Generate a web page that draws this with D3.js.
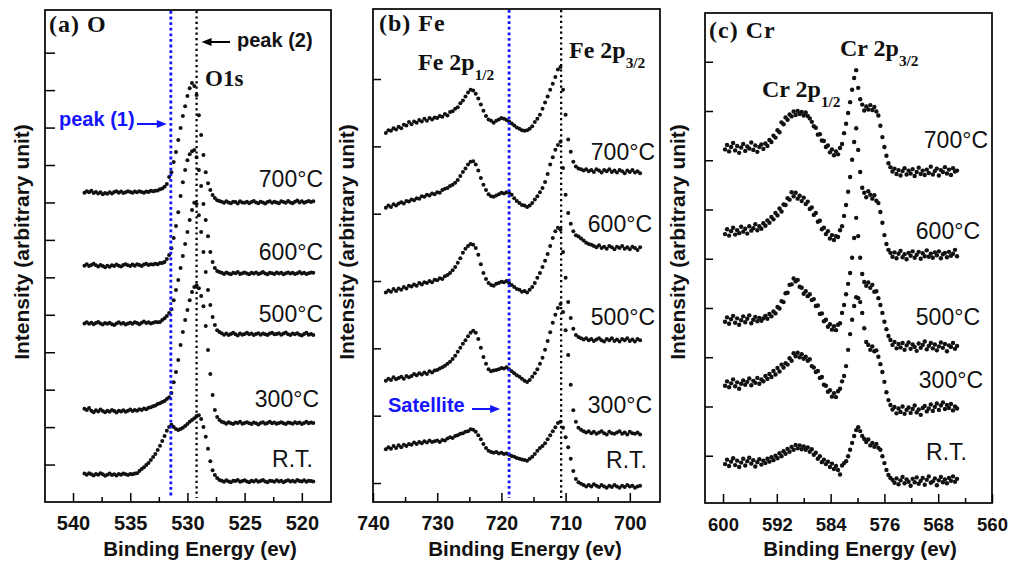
<!DOCTYPE html>
<html>
<head>
<meta charset="utf-8">
<script src="https://cdn.jsdelivr.net/npm/d3@7"></script>
<style>
  html, body { margin: 0; padding: 0; background: #fff; }
  svg { display: block; }
</style>
</head>
<body>
<svg id="chart" width="1011" height="567"></svg>
<script>
// ---------------------------------------------------------------
// XPS spectra of O 1s, Fe 2p and Cr 2p after annealing.
// Each spectrum is sampled on an evenly spaced binding-energy grid
// (start energy + step); intensities are in arbitrary units.
// ---------------------------------------------------------------

const temps = ['700°C', '600°C', '500°C', '300°C', 'R.T.'];

// ---- (a) O 1s -------------------------------------------------
const oStartEV = 539.0, oStepEV = 0.2;
const o700 = [8.26, 8.30, 8.27, 8.31, 8.25, 8.28, 8.24, 8.27, 8.22, 8.25, 8.23, 8.27, 8.24, 8.28, 8.30, 8.26, 8.29, 8.25, 8.27, 8.30, 8.28, 8.26, 8.29, 8.27, 8.30, 8.28, 8.26, 8.29, 8.28, 8.31,
  8.30, 8.31, 8.32, 8.35, 8.37, 8.42, 8.49,
  8.68, 8.81, 9.08, 9.35, 9.67, 9.99, 10.31, 10.57, 10.84, 11.05, 11.19, 11.11, 10.87, 10.33, 9.80, 9.27, 8.81, 8.51, 8.33, 8.20, 8.12, 8.06, 8.04,
  8.02, 7.99, 8.03, 8.00, 7.98, 8.02, 8.01, 7.97, 8.03, 8.00, 7.99, 8.02, 7.98, 8.01, 8.04, 8.00, 7.98, 8.02, 8.00, 7.97, 8.01, 8.03, 7.99, 8.02, 8.00, 7.98, 8.03, 8.01, 7.99, 8.04, 8.00, 7.98, 8.02, 8.05, 8.00, 8.03, 7.99, 8.02, 8.04, 8.01, 8.03];
const o600 = [6.31, 6.35, 6.30, 6.33, 6.36, 6.32, 6.29, 6.33, 6.30, 6.27, 6.31, 6.28, 6.32, 6.30, 6.34, 6.31, 6.29, 6.33, 6.35, 6.32, 6.30, 6.34, 6.31, 6.35, 6.33, 6.30, 6.34, 6.36, 6.33, 6.35, 6.34, 6.36,
  6.35, 6.38, 6.38, 6.41, 6.49, 6.60, 6.78, 7.05, 7.37, 7.74, 8.17, 8.54, 8.87, 9.13, 9.29, 9.37, 9.40, 9.21, 8.87, 8.44, 7.96, 7.53, 7.10, 6.68, 6.41, 6.25, 6.17, 6.14,
  6.12, 6.09, 6.13, 6.10, 6.08, 6.12, 6.11, 6.14, 6.09, 6.11, 6.13, 6.10, 6.08, 6.12, 6.10, 6.13, 6.09, 6.11, 6.14, 6.10, 6.08, 6.12, 6.11, 6.09, 6.13, 6.10, 6.12, 6.08, 6.11, 6.13, 6.10, 6.12, 6.09, 6.11, 6.14, 6.10, 6.12, 6.09, 6.11, 6.13, 6.12];
const o500 = [4.77, 4.80, 4.76, 4.79, 4.75, 4.78, 4.81, 4.77, 4.74, 4.78, 4.76, 4.79, 4.75, 4.73, 4.77, 4.80, 4.76, 4.78, 4.74, 4.77, 4.79, 4.76, 4.80, 4.78, 4.75, 4.79, 4.82, 4.78, 4.80, 4.77, 4.79, 4.81, 4.80,
  4.81, 4.86, 4.91, 4.97, 5.05, 5.15, 5.39, 5.66, 5.93, 6.25, 6.57, 6.89, 7.21, 7.53, 7.80, 7.99, 7.96, 7.66, 7.21, 6.68, 6.14, 5.66, 5.26, 4.94, 4.73, 4.59, 4.54,
  4.51, 4.47, 4.50, 4.46, 4.49, 4.52, 4.48, 4.45, 4.50, 4.47, 4.49, 4.52, 4.48, 4.50, 4.46, 4.49, 4.51, 4.47, 4.50, 4.48, 4.46, 4.50, 4.52, 4.48, 4.49, 4.51, 4.47, 4.50, 4.53, 4.48, 4.46, 4.50, 4.48, 4.51, 4.47, 4.45, 4.49, 4.52, 4.47, 4.49, 4.46];
const o300 = [2.49, 2.46, 2.51, 2.44, 2.40, 2.45, 2.42, 2.47, 2.43, 2.40, 2.44, 2.41, 2.46, 2.43, 2.39, 2.44, 2.42, 2.45, 2.41, 2.44, 2.47, 2.43, 2.46, 2.44, 2.48, 2.46, 2.50, 2.48, 2.52, 2.53,
  2.56, 2.58, 2.62, 2.64, 2.67, 2.70, 2.75, 2.80, 2.91, 3.20, 3.47, 3.79, 4.19, 4.54, 4.86, 5.13, 5.39, 5.61, 5.74, 5.79, 5.71, 5.50, 5.23, 4.70, 4.06, 3.42, 2.86, 2.46, 2.27, 2.19, 2.14,
  2.12, 2.09, 2.13, 2.10, 2.08, 2.12, 2.11, 2.14, 2.09, 2.11, 2.13, 2.10, 2.08, 2.12, 2.10, 2.07, 2.11, 2.13, 2.09, 2.11, 2.14, 2.10, 2.12, 2.09, 2.11, 2.13, 2.10, 2.08, 2.12, 2.11, 2.09, 2.13, 2.10, 2.12, 2.08, 2.11, 2.14, 2.10, 2.12, 2.11];
const oRT = [0.76, 0.73, 0.77, 0.74, 0.71, 0.75, 0.73, 0.77, 0.74, 0.70, 0.73, 0.76, 0.72, 0.74, 0.71, 0.75, 0.73, 0.76, 0.74, 0.72, 0.75, 0.74, 0.76,
  0.77, 0.83, 0.88, 0.93, 0.99, 1.04, 1.12, 1.20, 1.28, 1.39, 1.50, 1.63, 1.76, 1.90, 2.00, 2.06, 2.00, 1.95, 1.92, 1.95, 1.98, 2.03, 2.08, 2.14, 2.19, 2.24, 2.30, 2.32, 2.22, 2.00, 1.74, 1.42, 1.09, 0.85, 0.72, 0.64, 0.59,
  0.57, 0.54, 0.58, 0.55, 0.53, 0.57, 0.56, 0.59, 0.54, 0.56, 0.58, 0.55, 0.53, 0.57, 0.55, 0.58, 0.54, 0.56, 0.59, 0.55, 0.53, 0.57, 0.56, 0.54, 0.58, 0.55, 0.57, 0.53, 0.56, 0.58, 0.55, 0.57, 0.54, 0.59, 0.56, 0.55, 0.58, 0.54, 0.57, 0.56, 0.55];
const oXTicks = [540, 535, 530, 525, 520];
const oXMinor = [537.5, 532.5, 527.5, 522.5];
const oYTicks = [1, 2, 3, 4, 5, 6, 7, 8, 9, 10, 11, 12];
const oPeak1EV = 531.45, oPeak2EV = 529.2;

// ---- (b) Fe 2p ------------------------------------------------
const feStartEV = 738.0, feStepEV = 0.4;
const fe700 = [5.20, 5.24, 5.23, 5.27, 5.25, 5.29, 5.27, 5.32, 5.31, 5.36,
  5.33, 5.37, 5.35, 5.39, 5.37, 5.41, 5.38, 5.42, 5.40, 5.43,
  5.42, 5.45, 5.44, 5.48, 5.46, 5.51, 5.52, 5.56, 5.58, 5.64,
  5.68, 5.74, 5.80, 5.84, 5.83, 5.78, 5.71, 5.62, 5.53, 5.45,
  5.40, 5.38, 5.35, 5.38, 5.40, 5.42, 5.41, 5.39, 5.37, 5.34,
  5.31, 5.28, 5.26, 5.24, 5.23, 5.24, 5.26, 5.30, 5.36, 5.41,
  5.47, 5.56, 5.65, 5.74, 5.84, 5.93, 6.03, 6.14, 6.18, 5.84,
  5.47, 5.10, 4.92, 4.77, 4.70, 4.67, 4.66, 4.64, 4.66, 4.63,
  4.65, 4.62, 4.66, 4.64, 4.61, 4.65, 4.63, 4.66, 4.62, 4.64,
  4.61, 4.65, 4.63, 4.60, 4.64, 4.62, 4.65, 4.61, 4.63, 4.60];
const fe600 = [4.09, 4.12, 4.10, 4.14, 4.12, 4.15, 4.17, 4.15, 4.19, 4.18,
  4.21, 4.20, 4.23, 4.22, 4.26, 4.25, 4.28, 4.27, 4.30, 4.29,
  4.32, 4.31, 4.35, 4.37, 4.38, 4.41, 4.43, 4.46, 4.50, 4.56,
  4.62, 4.67, 4.73, 4.77, 4.78, 4.73, 4.64, 4.53, 4.43, 4.35,
  4.29, 4.26, 4.25, 4.27, 4.29, 4.31, 4.30, 4.32, 4.31, 4.28,
  4.23, 4.19, 4.16, 4.13, 4.12, 4.10, 4.12, 4.16, 4.21, 4.26,
  4.32, 4.38, 4.47, 4.59, 4.73, 4.84, 4.95, 5.02, 5.07, 4.68,
  4.28, 4.01, 3.85, 3.74, 3.68, 3.66, 3.63, 3.60, 3.57, 3.55,
  3.54, 3.52, 3.50, 3.53, 3.49, 3.51, 3.48, 3.52, 3.50, 3.47,
  3.51, 3.49, 3.52, 3.48, 3.50, 3.47, 3.51, 3.49, 3.46, 3.50];
const fe500 = [2.83, 2.86, 2.84, 2.88, 2.85, 2.89, 2.87, 2.91, 2.89, 2.93,
  2.92, 2.95, 2.93, 2.97, 2.95, 2.98, 2.97, 3.00, 2.98, 3.02,
  3.01, 3.04, 3.03, 3.07, 3.09, 3.12, 3.16, 3.21, 3.27, 3.34,
  3.42, 3.48, 3.52, 3.55, 3.54, 3.49, 3.39, 3.25, 3.12, 3.03,
  2.97, 2.94, 2.93, 2.96, 2.97, 2.99, 2.98, 3.00, 2.97, 2.94,
  2.91, 2.88, 2.87, 2.84, 2.85, 2.83, 2.87, 2.91, 2.97, 3.05,
  3.12, 3.21, 3.30, 3.40, 3.52, 3.64, 3.74, 3.79, 3.76, 3.43,
  3.05, 2.69, 2.45, 2.29, 2.20, 2.17, 2.15, 2.13, 2.15, 2.12,
  2.14, 2.11, 2.13, 2.15, 2.12, 2.10, 2.14, 2.12, 2.15, 2.11,
  2.13, 2.10, 2.14, 2.12, 2.15, 2.11, 2.13, 2.10, 2.14, 2.12];
const fe300 = [1.52, 1.55, 1.53, 1.57, 1.54, 1.56, 1.58, 1.55, 1.59, 1.57,
  1.59, 1.62, 1.60, 1.63, 1.61, 1.64, 1.62, 1.66, 1.64, 1.67,
  1.68, 1.70, 1.72, 1.74, 1.77, 1.80, 1.84, 1.89, 1.95, 2.01,
  2.07, 2.12, 2.18, 2.23, 2.26, 2.23, 2.14, 2.01, 1.87, 1.77,
  1.69, 1.66, 1.67, 1.68, 1.69, 1.71, 1.70, 1.72, 1.69, 1.66,
  1.63, 1.60, 1.58, 1.55, 1.52, 1.50, 1.53, 1.58, 1.63, 1.69,
  1.77, 1.86, 1.98, 2.11, 2.24, 2.38, 2.50, 2.60, 2.66, 2.54,
  2.27, 1.90, 1.46, 1.08, 0.91, 0.82, 0.79, 0.77, 0.75, 0.77,
  0.74, 0.76, 0.73, 0.75, 0.77, 0.74, 0.72, 0.76, 0.74, 0.73,
  0.75, 0.77, 0.73, 0.75, 0.72, 0.76, 0.74, 0.73, 0.75, 0.72];
const feRT = [0.50, 0.53, 0.51, 0.55, 0.52, 0.56, 0.53, 0.57, 0.55, 0.58,
  0.57, 0.60, 0.58, 0.61, 0.59, 0.62, 0.60, 0.63, 0.61, 0.62,
  0.63, 0.61, 0.64, 0.63, 0.66, 0.68, 0.67, 0.70, 0.71, 0.73,
  0.74, 0.76, 0.77, 0.80, 0.79, 0.76, 0.71, 0.65, 0.58, 0.52,
  0.48, 0.46, 0.45, 0.46, 0.44, 0.45, 0.43, 0.44, 0.42, 0.40,
  0.39, 0.37, 0.36, 0.35, 0.34, 0.33, 0.36, 0.39, 0.43, 0.48,
  0.52, 0.55, 0.59, 0.65, 0.71, 0.77, 0.83, 0.89, 0.91, 0.82,
  0.68, 0.53, 0.36, 0.18, 0.06, 0.01, -0.01, -0.03, -0.05, -0.03,
  -0.05, -0.02, -0.04, -0.06, -0.03, -0.05, -0.07, -0.04, -0.06, -0.03,
  -0.05, -0.07, -0.04, -0.06, -0.03, -0.05, -0.04, -0.07, -0.05, -0.04];
const feXTicks = [740, 730, 720, 710, 700];
const feXMinor = [735, 725, 715, 705];
const feYTicks = [0, 1, 2, 3, 4, 5, 6];
const feSatelliteEV = 718.8, fe2p32EV = 710.7;

// ---- (c) Cr 2p ------------------------------------------------
const crStartEV = 599.7, crStepEV = 0.3;
const cr700 = [7.22, 7.31, 7.18, 7.27, 7.35, 7.20, 7.29, 7.15, 7.26, 7.33,
  7.19, 7.28, 7.24, 7.36, 7.21, 7.30, 7.17, 7.27, 7.32, 7.23,
  7.34, 7.29, 7.41, 7.37, 7.50, 7.46, 7.61, 7.57, 7.77, 7.73,
  7.87, 7.82, 7.93, 7.89, 7.99, 7.92, 8.00, 7.94, 7.98, 7.91,
  7.97, 7.90, 7.85, 7.78, 7.69, 7.66, 7.52, 7.53, 7.40, 7.39,
  7.27, 7.30, 7.16, 7.22, 7.10, 7.18, 7.12, 7.25, 7.33, 7.55,
  7.74, 7.96, 8.18, 8.43, 8.67, 8.83, 8.47, 8.24, 8.13, 8.01,
  8.09, 8.03, 8.12, 8.02, 8.08, 7.99, 7.91, 7.70, 7.47, 7.27,
  7.09, 6.94, 6.86, 6.77, 6.83, 6.72, 6.80, 6.69, 6.78, 6.84,
  6.71, 6.79, 6.73, 6.82, 6.68, 6.76, 6.85, 6.72, 6.79, 6.70,
  6.81, 6.74, 6.87, 6.71, 6.78, 6.83, 6.69, 6.80, 6.76, 6.86,
  6.73, 6.81, 6.70, 6.84, 6.77, 6.79];
const cr600 = [5.50, 5.60, 5.47, 5.56, 5.63, 5.49, 5.58, 5.52, 5.65, 5.55,
  5.61, 5.51, 5.66, 5.57, 5.62, 5.70, 5.58, 5.66, 5.61, 5.72,
  5.67, 5.78, 5.73, 5.85, 5.80, 5.93, 5.88, 6.02, 5.96, 6.10,
  6.09, 6.23, 6.20, 6.35, 6.27, 6.34, 6.22, 6.28, 6.17, 6.24,
  6.11, 6.16, 6.01, 6.04, 5.89, 5.93, 5.75, 5.77, 5.60, 5.63,
  5.50, 5.56, 5.41, 5.48, 5.38, 5.46, 5.44, 5.58, 5.66, 5.87,
  6.09, 6.36, 6.66, 7.01, 7.37, 7.65, 7.21, 6.76, 6.44, 6.34,
  6.25, 6.37, 6.30, 6.22, 6.29, 6.18, 6.13, 5.95, 5.73, 5.48,
  5.30, 5.18, 5.12, 5.04, 5.13, 5.01, 5.10, 5.16, 5.03, 5.09,
  4.99, 5.12, 5.06, 5.15, 5.02, 5.08, 5.14, 5.00, 5.11, 5.05,
  5.17, 5.04, 5.10, 5.02, 5.13, 5.07, 5.15, 5.01, 5.09, 5.12,
  5.03, 5.14, 5.06, 5.10, 5.18, 5.05];
const cr500 = [3.72, 3.81, 3.68, 3.77, 3.84, 3.70, 3.79, 3.66, 3.75, 3.83,
  3.71, 3.78, 3.85, 3.69, 3.76, 3.82, 3.73, 3.80, 3.74, 3.79,
  3.84, 3.78, 3.88, 3.83, 3.93, 3.89, 4.02, 3.99, 4.14, 4.12,
  4.30, 4.31, 4.47, 4.48, 4.60, 4.54, 4.57, 4.43, 4.41, 4.29,
  4.34, 4.24, 4.28, 4.16, 4.18, 4.04, 4.05, 3.88, 3.89, 3.73,
  3.76, 3.62, 3.67, 3.56, 3.63, 3.55, 3.66, 3.69, 3.90, 4.06,
  4.28, 4.49, 4.71, 5.02, 5.42, 5.83, 5.46, 5.02, 4.69, 4.53,
  4.45, 4.52, 4.41, 4.47, 4.33, 4.34, 4.20, 4.06, 3.90, 3.72,
  3.57, 3.43, 3.35, 3.25, 3.31, 3.18, 3.27, 3.20, 3.29, 3.15,
  3.24, 3.30, 3.17, 3.26, 3.21, 3.13, 3.28, 3.19, 3.25, 3.32,
  3.16, 3.23, 3.29, 3.18, 3.26, 3.14, 3.22, 3.30, 3.19, 3.27,
  3.12, 3.24, 3.21, 3.29, 3.17, 3.23];
const cr300 = [2.42, 2.51, 2.39, 2.47, 2.55, 2.41, 2.49, 2.36, 2.46, 2.53,
  2.44, 2.50, 2.57, 2.43, 2.52, 2.48, 2.58, 2.46, 2.55, 2.51,
  2.62, 2.56, 2.66, 2.60, 2.72, 2.65, 2.78, 2.71, 2.85, 2.79,
  2.88, 2.85, 2.98, 2.93, 3.08, 3.02, 3.09, 3.00, 3.06, 2.97,
  3.01, 2.93, 2.96, 2.82, 2.79, 2.70, 2.72, 2.58, 2.60, 2.44,
  2.42, 2.30, 2.33, 2.20, 2.27, 2.19, 2.31, 2.36, 2.51, 2.62,
  2.82, 3.15, 3.47, 3.76, 4.04, 4.22, 4.20, 4.12, 3.90, 3.59,
  3.31, 3.25, 3.15, 3.22, 3.12, 3.14, 3.01, 2.86, 2.70, 2.50,
  2.29, 2.13, 2.03, 1.94, 1.99, 1.86, 1.96, 1.89, 2.00, 1.85,
  1.93, 1.98, 1.87, 1.95, 2.02, 1.88, 1.94, 1.83, 1.97, 2.01,
  1.90, 1.96, 2.04, 1.91, 1.99, 2.06, 1.93, 2.02, 2.08, 1.95,
  2.03, 1.97, 2.05, 1.92, 2.00, 1.96];
const crRT = [0.83, 0.92, 0.79, 0.88, 0.95, 0.81, 0.90, 0.77, 0.86, 0.94,
  0.80, 0.89, 0.96, 0.84, 0.91, 0.78, 0.87, 0.93, 0.82, 0.90,
  0.85, 0.94, 0.88, 0.97, 0.91, 1.00, 0.95, 1.05, 0.99, 1.09,
  1.04, 1.14, 1.08, 1.18, 1.12, 1.22, 1.15, 1.21, 1.13, 1.19,
  1.12, 1.17, 1.08, 1.13, 1.02, 1.06, 0.94, 0.99, 0.87, 0.92,
  0.83, 0.88, 0.77, 0.84, 0.73, 0.79, 0.71, 0.62, 0.80, 0.85,
  0.89, 0.99, 1.12, 1.26, 1.40, 1.52, 1.58, 1.50, 1.40, 1.34,
  1.28, 1.33, 1.21, 1.26, 1.18, 1.24, 1.16, 1.12, 0.99, 0.85,
  0.71, 0.61, 0.55, 0.51, 0.45, 0.54, 0.42, 0.50, 0.57, 0.44,
  0.52, 0.47, 0.39, 0.53, 0.46, 0.56, 0.43, 0.49, 0.55, 0.41,
  0.51, 0.58, 0.45, 0.48, 0.54, 0.40, 0.50, 0.57, 0.46, 0.52,
  0.44, 0.55, 0.49, 0.58, 0.47, 0.53];
const crXTicks = [600, 592, 584, 576, 568, 560];
const crXMinor = [596, 588, 580, 572, 564];
const crYTicks = [1, 2, 3, 4, 5, 6, 7, 8, 9];

// ---------------------------------------------------------------
const SANS = "'Liberation Sans', Arial, Helvetica, sans-serif";
const SERIF = "'Liberation Serif', 'Times New Roman', Times, serif";
const BLUE = '#1414ff';
const INK = '#111';

const svg = d3.select('#chart');
svg.append('rect').attr('width', 1011).attr('height', 567).attr('fill', '#fff');

function drawPanel(p) {
  const x = d3.scaleLinear().domain(p.xDomain).range([p.left, p.right]);
  const y = d3.scaleLinear().domain(p.yDomain).range([p.bottom, p.top]);
  const g = svg.append('g');

  // spectra as scattered points
  p.series.forEach(vals => {
    g.append('g').selectAll('circle').data(vals).join('circle')
      .attr('cx', (v, i) => x(p.start - i * p.step))
      .attr('cy', v => y(v))
      .attr('r', p.r)
      .attr('fill', INK);
  });

  // dotted guide lines
  (p.guides || []).forEach(gd => {
    g.append('line')
      .attr('x1', x(gd.ev)).attr('x2', x(gd.ev))
      .attr('y1', p.top + 1).attr('y2', p.bottom - 4)
      .attr('stroke', gd.color).attr('stroke-width', gd.width)
      .attr('stroke-dasharray', gd.dash);
  });

  // bottom axis: major ticks with labels, pointing inward
  const major = g.append('g').attr('transform', `translate(0,${p.bottom})`)
    .call(d3.axisBottom(x).tickValues(p.xTicks).tickSizeInner(-9).tickSizeOuter(0)
      .tickPadding(p.tickPad).tickFormat(d3.format('d')));
  major.select('.domain').remove();
  major.selectAll('.tick line').attr('stroke', '#000').attr('stroke-width', 1.5);
  major.selectAll('.tick text')
    .attr('font-family', SANS).attr('font-weight', 700)
    .attr('font-size', p.tickFont).attr('fill', INK);

  const minor = g.append('g').attr('transform', `translate(0,${p.bottom})`)
    .call(d3.axisBottom(x).tickValues(p.xMinor).tickSizeInner(-5).tickSizeOuter(0).tickFormat(''));
  minor.select('.domain').remove();
  minor.selectAll('.tick line').attr('stroke', '#000').attr('stroke-width', 1.5);

  // left axis: unlabelled inward ticks
  const left = g.append('g').attr('transform', `translate(${p.left},0)`)
    .call(d3.axisLeft(y).tickValues(p.yTicks).tickSizeInner(-p.yTickLen).tickSizeOuter(0).tickFormat(''));
  left.select('.domain').remove();
  left.selectAll('.tick line').attr('stroke', '#000').attr('stroke-width', 1.5);

  // frame
  g.append('rect')
    .attr('x', p.left).attr('y', p.top)
    .attr('width', p.right - p.left).attr('height', p.bottom - p.top)
    .attr('fill', 'none').attr('stroke', '#000').attr('stroke-width', 1.7);

  // axis titles
  g.append('text')
    .attr('x', p.xTitleX).attr('y', 556)
    .attr('text-anchor', 'middle')
    .attr('font-family', SANS).attr('font-weight', 700).attr('font-size', 20.5)
    .attr('fill', INK).text('Binding Energy (ev)');
  g.append('text')
    .attr('transform', `translate(${p.yTitleX},242) rotate(-90)`)
    .attr('text-anchor', 'middle')
    .attr('font-family', SANS).attr('font-weight', 700).attr('font-size', 21)
    .attr('fill', INK).text('Intensity (arbitrary unit)');

  // temperature labels
  temps.forEach((t, i) => {
    g.append('text')
      .attr('x', p.tempPos[i][0]).attr('y', p.tempPos[i][1])
      .attr('text-anchor', 'end')
      .attr('font-family', SANS).attr('font-size', 23)
      .attr('fill', INK).text(t);
  });

  return { x, y, g };
}

function serifLabel(g, x, y, main, sub, size) {
  const t = g.append('text').attr('x', x).attr('y', y)
    .attr('font-family', SERIF).attr('font-weight', 700)
    .attr('font-size', size).attr('fill', INK);
  t.append('tspan').text(main);
  if (sub) t.append('tspan').attr('dy', 10).attr('font-size', size * 0.64).text(sub);
  return t;
}

function arrow(g, xFrom, xTip, yy, color) {
  const dir = Math.sign(xTip - xFrom);
  g.append('line')
    .attr('x1', xFrom).attr('x2', xTip - dir * 6)
    .attr('y1', yy).attr('y2', yy)
    .attr('stroke', color).attr('stroke-width', 2);
  g.append('path')
    .attr('d', `M${xTip},${yy} L${xTip - dir * 10},${yy - 4} L${xTip - dir * 10},${yy + 4} Z`)
    .attr('fill', color);
}

// ---- panel (a) -------------------------------------------------
const A = drawPanel({
  left: 45, right: 331, top: 10, bottom: 502,
  xDomain: [542.45, 517.45], yDomain: [0, 13.14],
  start: oStartEV, step: oStepEV, series: [o700, o600, o500, o300, oRT],
  xTicks: oXTicks, xMinor: oXMinor, yTicks: oYTicks, yTickLen: 10,
  tickFont: 20, tickPad: 14, r: 2.0,
  guides: [
    { ev: oPeak1EV, color: BLUE, width: 2.8, dash: '2.8,2.8' },
    { ev: oPeak2EV, color: '#000', width: 2.3, dash: '2.2,3.2' }
  ],
  xTitleX: 200, yTitleX: 29,
  tempPos: [[323, 187], [323, 260], [323, 322], [319, 407], [313, 467]]
});
serifLabel(A.g, 49, 32, '(a) O', null, 24).attr('letter-spacing', 1);
serifLabel(A.g, 205, 86, 'O1s', null, 23);
arrow(A.g, 230, A.x(oPeak2EV) + 5, 42, '#000');
A.g.append('text').attr('x', 237).attr('y', 47)
  .attr('font-family', SANS).attr('font-weight', 700).attr('font-size', 20)
  .attr('fill', INK).text('peak (2)');
A.g.append('text').attr('x', 59).attr('y', 126)
  .attr('font-family', SANS).attr('font-weight', 700).attr('font-size', 20)
  .attr('fill', BLUE).text('peak (1)');
arrow(A.g, 137, A.x(oPeak1EV) - 4, 124, BLUE);

// ---- panel (b) -------------------------------------------------
const B = drawPanel({
  left: 373, right: 660, top: 9, bottom: 502,
  xDomain: [740, 695.3], yDomain: [-0.282, 7.04],
  start: feStartEV, step: feStepEV, series: [fe700, fe600, fe500, fe300, feRT],
  xTicks: feXTicks, xMinor: feXMinor, yTicks: feYTicks, yTickLen: 8,
  tickFont: 19.5, tickPad: 14, r: 2.0,
  guides: [
    { ev: feSatelliteEV, color: BLUE, width: 2.8, dash: '2.8,2.8' },
    { ev: fe2p32EV, color: '#000', width: 2.3, dash: '2.2,3.2' }
  ],
  xTitleX: 525, yTitleX: 354,
  tempPos: [[655, 160], [652, 232], [655, 325], [652, 413], [647, 468]]
});
serifLabel(B.g, 379, 31, '(b) Fe', null, 24).attr('letter-spacing', 1);
serifLabel(B.g, 418, 70, 'Fe 2p', '1/2', 24);
serifLabel(B.g, 569, 58, 'Fe 2p', '3/2', 24);
B.g.append('text').attr('x', 388).attr('y', 412)
  .attr('font-family', SANS).attr('font-weight', 700).attr('font-size', 20)
  .attr('fill', BLUE).text('Satellite');
arrow(B.g, 472, B.x(feSatelliteEV) - 9, 409, BLUE);

// ---- panel (c) -------------------------------------------------
const C = drawPanel({
  left: 705, right: 992, top: 13, bottom: 503,
  xDomain: [602.68, 560], yDomain: [0.04, 9.99],
  start: crStartEV, step: crStepEV, series: [cr700, cr600, cr500, cr300, crRT],
  xTicks: crXTicks, xMinor: crXMinor, yTicks: crYTicks, yTickLen: 8,
  tickFont: 18.5, tickPad: 15, r: 2.2,
  guides: [],
  xTitleX: 860, yTitleX: 685,
  tempPos: [[988, 148], [980, 239], [980, 325], [983, 388], [967, 460]]
});
serifLabel(C.g, 709, 38, '(c) Cr', null, 24).attr('letter-spacing', 1);
serifLabel(C.g, 840, 56, 'Cr 2p', '3/2', 24);
serifLabel(C.g, 762, 97, 'Cr 2p', '1/2', 24);
</script>
</body>
</html>
